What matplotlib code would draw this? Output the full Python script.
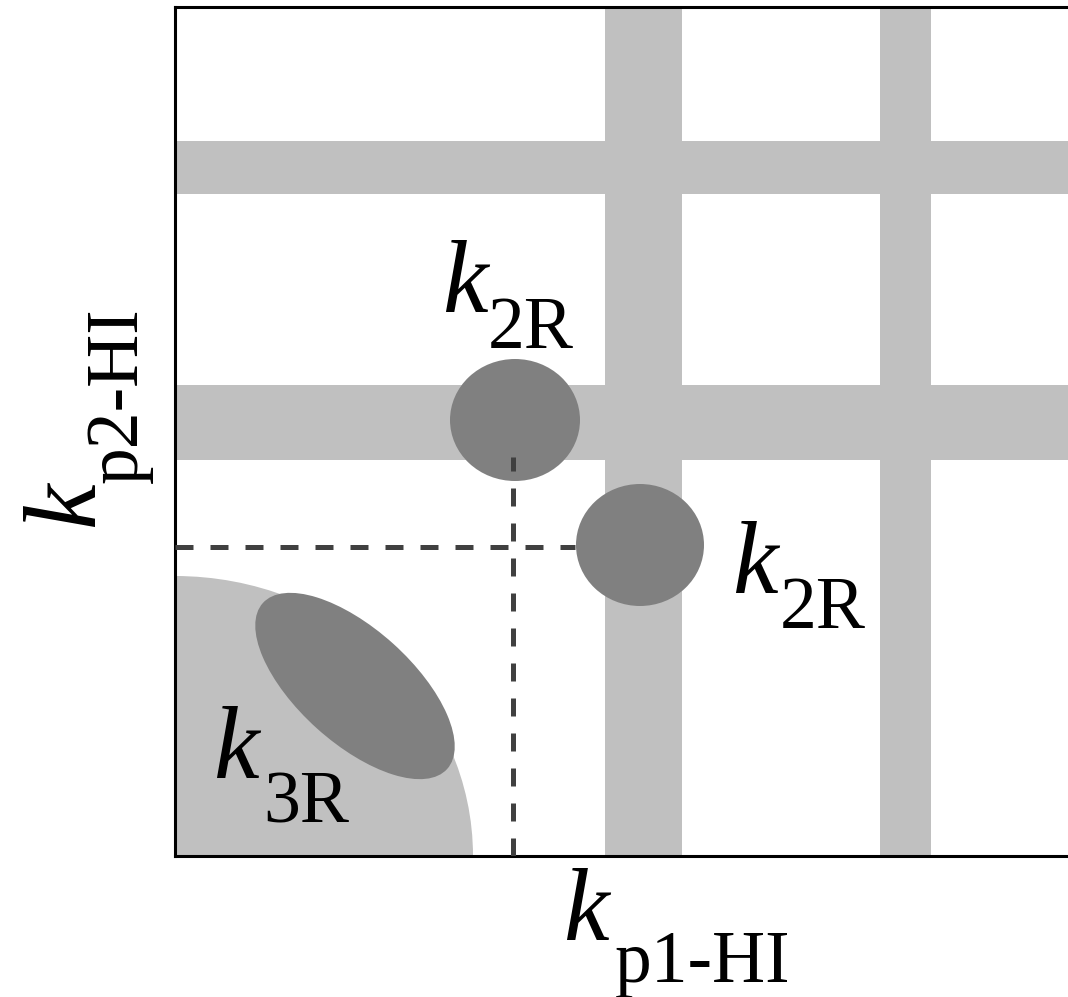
import matplotlib.pyplot as plt
from matplotlib.patches import Ellipse, Rectangle

# Schematic coordinates (axes units ~ pixels from the lower-left corner)
x_max, y_max = 895, 849

# Gray bands: (start, end)
v_bands = [(430, 507), (705, 756)]
h_bands = [(396, 471), (662, 715)]

# Light region in the corner (quarter ellipse around the origin)
corner_rx, corner_ry = 298, 280

# Dark blobs: (cx, cy, width, height, angle)
blobs = [(340, 436, 130, 122, 0),
         (465, 311, 128, 122, 0),
         (180, 170, 248, 114, -42)]

# Dashed guide lines
guide_x, guide_y = 338, 309
guide_len = 400

# Labels: (x, y, main, sub_x, sub_y, sub)
labels = [(267, 544, 'k', 313, 508, '2R'),
          (557, 263, 'k', 605, 228, '2R'),
          (38, 78, 'k', 88, 34, '3R')]

light = '#c0c0c0'
dark = '#808080'
serif = 'Liberation Serif'

fig = plt.figure(figsize=(10.68, 9.97), dpi=100)
ax = fig.add_axes([175 / 1068, (997 - 856) / 997, x_max / 1068, y_max / 997])
ax.set_xlim(0, x_max)
ax.set_ylim(0, y_max)
ax.set_xticks([])
ax.set_yticks([])
for s in ['left', 'bottom', 'top']:
    ax.spines[s].set_linewidth(2.2)
ax.spines['right'].set_visible(False)

for a, b in v_bands:
    ax.add_patch(Rectangle((a, 0), b - a, y_max + 10, color=light, lw=0, zorder=1))
for a, b in h_bands:
    ax.add_patch(Rectangle((0, a), x_max + 20, b - a, color=light, lw=0, zorder=1))

ax.add_patch(Ellipse((0, 0), 2 * corner_rx, 2 * corner_ry, color=light, lw=0, zorder=1))

for cx, cy, w, h, ang in blobs:
    ax.add_patch(Ellipse((cx, cy), w, h, angle=ang, color=dark, lw=0, zorder=2))

ax.plot([guide_x, guide_x], [0, guide_len - 1], color='#404040', lw=3.6,
        dashes=(3.6, 3.4), zorder=3)
ax.plot([0, guide_len], [guide_y, guide_y], color='#404040', lw=3.6,
        dashes=(3.6, 3.4), zorder=3)

for x, y, m, sx, sy, sub in labels:
    ax.text(x, y, m, family=serif, style='italic', fontsize=74,
            ha='left', va='baseline', zorder=4)
    ax.text(sx, sy, sub, family=serif, fontsize=53,
            ha='left', va='baseline', zorder=4)

# axis labels
ax.text(388, -84, 'k', family=serif, style='italic', fontsize=74,
        ha='left', va='baseline', clip_on=False)
ax.text(440, -126, 'p1-HI', family=serif, fontsize=53,
        ha='left', va='baseline', clip_on=False)
ax.text(-82, 329, 'k', family=serif, style='italic', fontsize=74,
        rotation=90, rotation_mode='anchor', ha='left', va='baseline', clip_on=False)
ax.text(-38, 373, 'p2-HI', family=serif, fontsize=53,
        rotation=90, rotation_mode='anchor', ha='left', va='baseline', clip_on=False)

fig.savefig('out.png', dpi=100)
